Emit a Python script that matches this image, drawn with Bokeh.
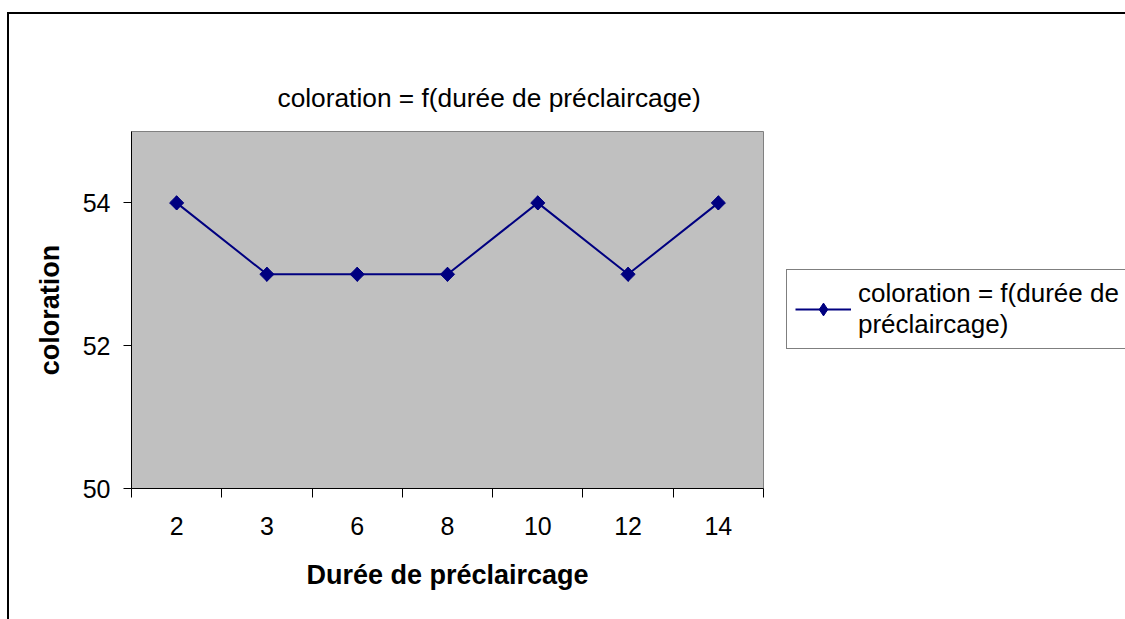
from bokeh.plotting import figure
from bokeh.models import FixedTicker, Range1d, Legend, LegendItem, ColumnDataSource
from bokeh.embed import file_html
from bokeh.resources import INLINE

# ---- data ----
categories = ["2", "3", "6", "8", "10", "12", "14"]
coloration = [54, 53, 53, 53, 54, 53, 54]
y_ticks = [50, 52, 54]
title_text = "coloration = f(durée de préclaircage)"
x_title = "Durée de préclaircage"
y_title = "coloration"
series_label = "coloration = f(durée de\npréclaircage)"

FONT = "Liberation Sans"
NAVY = "#000080"

xs = list(range(1, len(categories) + 1))
source = ColumnDataSource(dict(x=xs, y=coloration, cat=categories))

p = figure(frame_width=632, frame_height=357, output_backend="svg", toolbar_location=None,
           x_range=Range1d(0.5, len(categories) + 0.5), y_range=Range1d(50, 55),
           min_border_left=122, min_border_right=362, min_border_top=117, min_border_bottom=131)
p.margin = (12, 0, 0, 7)
p.styles = {"border-top": "2px solid black", "border-left": "2px solid black"}

p.background_fill_color = "#C0C0C0"
p.border_fill_color = "white"
p.outline_line_color = "#808080"
p.outline_line_width = 1
p.xgrid.visible = False
p.ygrid.visible = False

# title
p.title.text = title_text
p.title.text_font = FONT
p.title.text_font_size = "26.3px"
p.title.text_font_style = "normal"
p.title.text_color = "black"
p.title.align = "left"
p.title.offset = 146
p.title.standoff = 37

# x axis: labels at category centres, ticks at category boundaries
xa = p.xaxis[0]
xa.ticker = FixedTicker(ticks=xs, minor_ticks=[x - 0.5 for x in xs] + [xs[-1] + 0.5])
xa.major_label_overrides = {x: c for x, c in zip(xs, categories)}
xa.major_tick_out = 0
xa.major_tick_in = 0
xa.minor_tick_out = 9
xa.minor_tick_in = 0
xa.minor_tick_line_color = "black"
xa.axis_line_color = "black"
xa.major_label_text_font = FONT
xa.major_label_text_font_size = "25px"
xa.major_label_text_color = "black"
xa.major_label_standoff = 19
xa.axis_label = x_title
xa.axis_label_text_font = FONT
xa.axis_label_text_font_size = "27px"
xa.axis_label_text_font_style = "bold"
xa.axis_label_text_color = "black"
xa.axis_label_standoff = 22

ya = p.yaxis[0]
ya.ticker = FixedTicker(ticks=y_ticks, minor_ticks=[])
ya.major_tick_out = 8
ya.major_tick_in = 0
ya.major_tick_line_color = "black"
ya.axis_line_color = "black"
ya.major_label_text_font = FONT
ya.major_label_text_font_size = "25px"
ya.major_label_text_color = "black"
ya.major_label_standoff = 13
ya.axis_label = y_title
ya.axis_label_text_font = FONT
ya.axis_label_text_font_size = "27px"
ya.axis_label_text_font_style = "bold"
ya.axis_label_text_color = "black"
ya.axis_label_standoff = 15

# series
line_r = p.line("x", "y", source=source, line_color=NAVY, line_width=2)
# diamond drawn underneath (gives the legend its diamond symbol)
dia_r = p.scatter("x", "y", source=source, marker="diamond", size=14,
                  fill_color=NAVY, line_color=NAVY)
pts_r = p.scatter("x", "y", source=source, marker="square", angle=0.785398,
                  size=10, fill_color=NAVY, line_color=NAVY)

legend = Legend(items=[LegendItem(label=series_label, renderers=[line_r, dia_r])],
                location=(23, 139), orientation="vertical",
                label_text_font=FONT, label_text_font_size="26px", label_text_color="black",
                glyph_width=56, glyph_height=32, label_standoff=7, label_width=276,
                padding=8, margin=0, spacing=0,
                border_line_color="black", border_line_width=1,
                background_fill_color="white", background_fill_alpha=1)
p.add_layout(legend, "right")

open("out.html", "w").write(file_html(p, INLINE))
